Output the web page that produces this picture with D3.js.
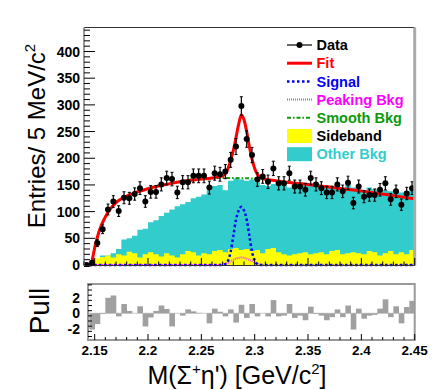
<!DOCTYPE html>
<html><head><meta charset="utf-8">
<script src="https://cdn.jsdelivr.net/npm/d3@7"></script>
<style>
body{margin:0;background:#fff}
text{font-family:"Liberation Sans",Arial,Helvetica,sans-serif}
</style>
</head><body>
<svg id="c" width="436" height="390"></svg>
<script>
// ---------- data ----------
const binLow = 2.14, binWidth = 0.005, nBins = 62;
const dataCounts = [0,4,41,67,104,119,101,126,125,133,144,119,137,137,151,163,161,136,155,155,
  167,167,167,145,172,170,175,197,222,298,236,206,160,166,156,181,153,153,172,147,
  147,141,163,151,144,136,136,151,138,154,116,147,128,131,131,141,153,123,138,113,134,144];
const sideband = [0,5,12,15,18,14,20,18,25,22,14,20,24,20,16,22,18,14,20,26,
  24,18,22,20,26,28,24,30,32,28,30,26,28,22,30,32,24,20,18,20,
  22,24,20,22,24,20,26,28,20,22,24,22,20,26,24,18,22,26,20,24,20,28];
const bkgStackTop = [0,0,0,18,18,22,30,48,50,55,66,68,80,84,92,98,104,110,114,118,
  125,128,132,140,148,150,140,158,162,160,158,160,155,150,148,152,150,150,145,150,
  155,150,150,148,150,148,145,148,140,150,145,142,140,145,142,140,140,138,140,136,138,140];
const pullValues = [-2.1,-1.4,-0.1,2.0,2.3,-0.4,1.2,0.3,0.0,0.9,-1.7,-0.55,0.3,1.0,0.55,-1.7,0.0,-0.3,0.5,0.25,
  0.05,0.0,-1.3,0.6,0.2,-0.4,0.5,-1.2,1.1,-0.6,1.2,-0.4,0.0,-0.4,1.7,-0.4,-0.3,1.2,-0.6,-0.3,
  -0.9,0.85,-0.1,-0.3,-0.9,-0.5,0.5,-0.5,1.0,-2.1,0.6,-0.7,-0.3,-0.2,0.6,1.8,-0.5,0.9,-1.3,0.8,1.6];
const fitMass = [2.140,2.147,2.148,2.149,2.150,2.1525,2.155,2.1575,2.160,2.165,2.170,2.175,2.180,2.190,2.200,2.210,2.220,2.230,2.240,2.250,2.260,2.265,2.270,2.2725,2.275,2.2775,2.280,2.2825,2.285,2.2875,2.290,2.2925,2.295,2.2975,2.300,2.3025,2.305,2.310,2.320,2.330,2.350,2.370,2.390,2.410,2.430,2.450];
const fitValues = [0,0,12,22,32,52,68,80,90,106,117,124,129,137,143,148,152,156,159,161,163,165,167,171,181,196,215,239,264,281,272,250,222,199,181,170,165,161,158,155,151,146,141,136,130,124];
const smoothMass = [2.140,2.147,2.148,2.149,2.150,2.1525,2.155,2.1575,2.160,2.165,2.170,2.175,2.180,2.190,2.200,2.210,2.220,2.230,2.240,2.250,2.260,2.270,2.280,2.290,2.300,2.310,2.320,2.330,2.350,2.370,2.390,2.410,2.430,2.450];
const smoothValues = [0,0,12,22,32,52,68,80,90,106,117,124,129,137,143,149,153,157,160,161.5,162.5,163,163,162.5,162,160.5,158,155,151,146,141,136,130,124];
const signalMass = [2.140,2.2675,2.270,2.2725,2.275,2.2775,2.280,2.2825,2.285,2.2875,2.290,2.2925,2.295,2.2975,2.300,2.3025,2.305,2.3075,2.450];
const signalValues = [0,0,0,2,8,25,55,85,102,109,102,85,55,25,8,2,0,0,0];
const peakMass = [2.140,2.2625,2.2675,2.270,2.2725,2.275,2.2775,2.280,2.2825,2.285,2.2875,2.290,2.2925,2.295,2.2975,2.300,2.3025,2.305,2.3075,2.3125,2.450];
const peakValues = [0,0,0.3,1,2.5,4.5,7,9.5,12,13.5,14,13.5,12,9.5,7,4.5,2.5,1,0.3,0,0];
const xTicks = [2.15,2.2,2.25,2.3,2.35,2.4,2.45];
const yTicks = [0,50,100,150,200,250,300,350,400];
const pullTicks = [-2,0,2];
const legendItems = ["Data","Fit","Signal","Peaking Bkg","Smooth Bkg","Sideband","Other Bkg"];

// ---------- layout ----------
const svg = d3.select("#c");
const M = {l:84, r:414.7, t:27.5, b:265};
const P = {l:88, r:414.7, t:284, b:340};
const x = d3.scaleLinear().domain([2.14,2.45]).range([M.l,M.r]);
const y = d3.scaleLinear().domain([0,445]).range([M.b,M.t]);
const yp = d3.scaleLinear().domain([-3.45,3.78]).range([P.b,P.t]);

const defs = svg.append("defs");
defs.append("clipPath").attr("id","cm").append("rect").attr("x",M.l).attr("y",M.t).attr("width",M.r-M.l).attr("height",M.b-M.t+2);
defs.append("clipPath").attr("id","cp").append("rect").attr("x",P.l).attr("y",P.t).attr("width",P.r-P.l).attr("height",P.b-P.t);

const edges = d3.range(nBins).map(i => binLow + binWidth*i);
const centers = edges.map(e => e + binWidth/2);
function stepPts(vals){const p = vals.map((v,i)=>[edges[i],v]); p.push([binLow+binWidth*nBins, vals[vals.length-1]]); return p;}
const area = d3.area().x(d=>x(d[0])).y0(y(0)).y1(d=>y(d[1])).curve(d3.curveStepAfter);

const gm = svg.append("g").attr("clip-path","url(#cm)");
gm.append("path").attr("d",area(stepPts(bkgStackTop))).attr("fill","#33cccc");
gm.append("path").attr("d",area(stepPts(sideband))).attr("fill","#ffff00");

const line = d3.line().x(d=>x(d[0])).y(d=>y(d[1])).curve(d3.curveMonotoneX);
const zip = (a,b)=>a.map((v,i)=>[v,b[i]]);
gm.append("path").attr("d",line(zip(smoothMass,smoothValues))).attr("fill","none").attr("stroke","#0a9a0a").attr("stroke-width",2).attr("stroke-dasharray","4,2,1.5,2");
gm.append("path").attr("d",line(zip(fitMass,fitValues))).attr("fill","none").attr("stroke","#ff0000").attr("stroke-width",3);
gm.append("path").attr("d",line(zip(peakMass,peakValues))).attr("fill","none").attr("stroke","#ff33ff").attr("stroke-width",2).attr("stroke-dasharray","1,1");
gm.append("path").attr("d",line(zip(signalMass,signalValues))).attr("fill","none").attr("stroke","#0000ff").attr("stroke-width",2.5).attr("stroke-dasharray","2.5,2.5");

// data points
const gd = gm.append("g");
dataCounts.forEach((n,i)=>{
  const cx = x(centers[i]), cy = y(n), e = Math.sqrt(n);
  if(n>0){
    gd.append("line").attr("x1",cx).attr("x2",cx).attr("y1",y(n+e)).attr("y2",y(n-e)).attr("stroke","#000").attr("stroke-width",1.2);
    [n+e,n-e].forEach(v=>gd.append("line").attr("x1",cx-1.5).attr("x2",cx+1.5).attr("y1",y(v)).attr("y2",y(v)).attr("stroke","#000").attr("stroke-width",1));
  }
  gd.append("circle").attr("cx",cx).attr("cy",cy).attr("r",3).attr("fill","#000");
});

// main frame
svg.append("line").attr("x1",M.l).attr("x2",M.r).attr("y1",M.t).attr("y2",M.t).attr("stroke","#333").attr("stroke-width",1);
svg.append("line").attr("x1",M.r).attr("x2",M.r).attr("y1",M.t).attr("y2",M.b+1).attr("stroke","#aaa").attr("stroke-width",3);
svg.append("line").attr("x1",M.l).attr("x2",M.r).attr("y1",M.b+0.5).attr("y2",M.b+0.5).attr("stroke","#333").attr("stroke-width",1);
svg.append("line").attr("x1",M.l).attr("x2",M.l).attr("y1",M.t).attr("y2",M.b+1).attr("stroke","#999").attr("stroke-width",2);
// y ticks
d3.range(0,446,10).forEach(v=>{
  const major = yTicks.includes(v);
  svg.append("line").attr("x1",M.l).attr("x2",M.l+(major?11:6)).attr("y1",y(v)).attr("y2",y(v)).attr("stroke","#000").attr("stroke-width",1);
});
yTicks.forEach(v=>svg.append("text").attr("x",80).attr("y",y(v)).attr("dy","0.36em").attr("text-anchor","end").attr("font-weight","bold").attr("font-size",14).text(v));
// x ticks main
d3.range(2.14,2.4501,0.01).forEach(v=>{
  const major = xTicks.some(t=>Math.abs(t-v)<1e-6);
  svg.append("line").attr("x1",x(v)).attr("x2",x(v)).attr("y1",M.b).attr("y2",M.b-(major?7:3.5)).attr("stroke","#000").attr("stroke-width",1);
});

// ---------- pull panel ----------
const gp = svg.append("g").attr("clip-path","url(#cp)");
gp.append("line").attr("x1",P.l).attr("x2",P.r).attr("y1",yp(0)).attr("y2",yp(0)).attr("stroke","#ccc").attr("stroke-width",1);
pullValues.forEach((v,i)=>{
  const x0 = x(edges[i+1]), x1 = x(edges[i+1]+binWidth);
  gp.append("rect").attr("x",x0).attr("width",x1-x0+0.3).attr("y",Math.min(yp(v),yp(0))).attr("height",Math.abs(yp(v)-yp(0))).attr("fill","#a0a0a0");
});
svg.append("rect").attr("x",P.l).attr("y",P.t).attr("width",P.r-P.l).attr("height",P.b-P.t).attr("fill","none").attr("stroke","#999").attr("stroke-width",2);
d3.range(-3,3.8,2/3).forEach(v=>{
  const major = pullTicks.some(t=>Math.abs(t-v)<1e-6);
  svg.append("line").attr("x1",P.l).attr("x2",P.l+(major?8:4)).attr("y1",yp(v)).attr("y2",yp(v)).attr("stroke","#000").attr("stroke-width",1);
});
pullTicks.forEach(v=>svg.append("text").attr("x",80).attr("y",yp(v)).attr("dy","0.36em").attr("text-anchor","end").attr("font-weight","bold").attr("font-size",14).text(v));
d3.range(2.15,2.4501,0.01).forEach(v=>{
  const major = xTicks.some(t=>Math.abs(t-v)<1e-6);
  svg.append("line").attr("x1",x(v)).attr("x2",x(v)).attr("y1",P.b).attr("y2",P.b-(major?6:3)).attr("stroke","#000").attr("stroke-width",1);
});
xTicks.forEach(v=>svg.append("text").attr("x",x(v)).attr("y",350.5).attr("dy","0.36em").attr("text-anchor","middle").attr("font-weight","bold").attr("font-size",13.5).text(v));

// ---------- titles ----------
const yt = svg.append("text").attr("transform","translate(45,136) rotate(-90)").attr("text-anchor","middle").attr("font-size",24);
yt.append("tspan").text("Entries/ 5 MeV/c");
yt.append("tspan").attr("font-size",15).attr("dy",-10).text("2");
svg.append("text").attr("transform","translate(49,311) rotate(-90)").attr("text-anchor","middle").attr("font-size",28).text("Pull");
const xt = svg.append("text").attr("x",237).attr("y",384).attr("text-anchor","middle").attr("font-size",25);
xt.append("tspan").text("M(Σ");
xt.append("tspan").attr("font-size",15).attr("dy",-10).text("+");
xt.append("tspan").attr("dy",10).text("η') [GeV/c");
xt.append("tspan").attr("font-size",15).attr("dy",-10).text("2");
xt.append("tspan").attr("dy",10).text("]");

// ---------- legend ----------
const lg = svg.append("g");
const colors = ["#000","#ff0000","#0000ff","#ff00ff","#0a9a0a","#000","#33cccc"];
legendItems.forEach((name,i)=>{
  const yy = 45 + i*18.2;
  if(i===0){
    lg.append("line").attr("x1",287).attr("x2",312).attr("y1",yy).attr("y2",yy).attr("stroke","#000").attr("stroke-width",1.2);
    lg.append("circle").attr("cx",299.5).attr("cy",yy).attr("r",3).attr("fill","#000");
  } else if(i===1){
    lg.append("line").attr("x1",287).attr("x2",312).attr("y1",yy).attr("y2",yy).attr("stroke","#ff0000").attr("stroke-width",3);
  } else if(i===2){
    lg.append("line").attr("x1",287).attr("x2",312).attr("y1",yy).attr("y2",yy).attr("stroke","#0000ff").attr("stroke-width",2.5).attr("stroke-dasharray","2.5,2.5");
  } else if(i===3){
    lg.append("line").attr("x1",287).attr("x2",312).attr("y1",yy).attr("y2",yy).attr("stroke","#ff33ff").attr("stroke-width",2).attr("stroke-dasharray","1,1");
  } else if(i===4){
    lg.append("line").attr("x1",287).attr("x2",312).attr("y1",yy).attr("y2",yy).attr("stroke","#0a9a0a").attr("stroke-width",2).attr("stroke-dasharray","4,2,1.5,2");
  } else {
    lg.append("rect").attr("x",287).attr("y",yy-7).attr("width",25).attr("height",14).attr("fill",i===5?"#ffff00":"#33cccc");
  }
  lg.append("text").attr("x",316.5).attr("y",yy).attr("dy","0.36em").attr("font-weight","bold").attr("font-size",14.5).attr("fill",colors[i]).text(name);
});
</script>
</body></html>
